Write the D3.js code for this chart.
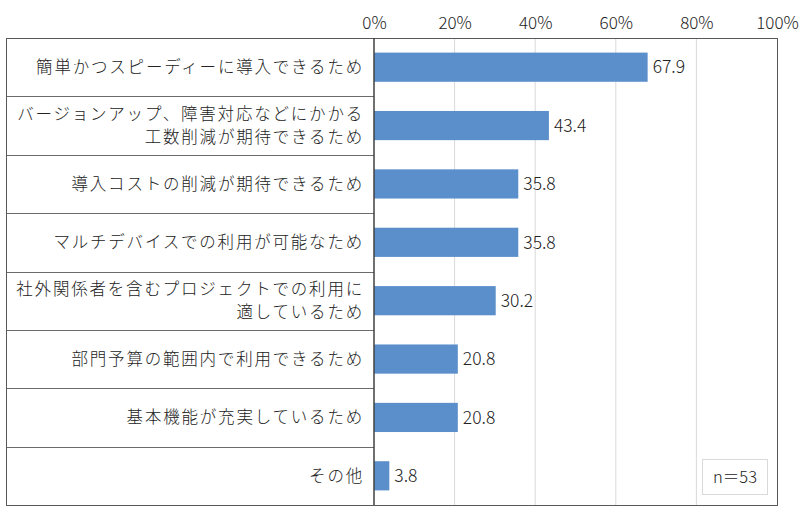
<!DOCTYPE html>
<html>
<head>
<meta charset="utf-8">
<script src="https://cdn.jsdelivr.net/npm/d3@7"></script>
<style>
  body { margin: 0; background: #fff; }
  svg { display: block; }
  text { font-family: "Noto Sans CJK JP", "Noto Sans", sans-serif; fill: #222; font-weight: 300; }
</style>
</head>
<body>
<div id="chart"></div>
<script>
// data
const categories = [
  ["簡単かつスピーディーに導入できるため"],
  ["バージョンアップ、障害対応などにかかる", "工数削減が期待できるため"],
  ["導入コストの削減が期待できるため"],
  ["マルチデバイスでの利用が可能なため"],
  ["社外関係者を含むプロジェクトでの利用に", "適しているため"],
  ["部門予算の範囲内で利用できるため"],
  ["基本機能が充実しているため"],
  ["その他"]
]
const values = [67.9, 43.4, 35.8, 35.8, 30.2, 20.8, 20.8, 3.8]
const xTicks = [0, 20, 40, 60, 80, 100]
const sampleNote = "n＝53"

const W = 800, H = 517
const LEFT = 6, AXIS_X = 374, RIGHT = 777, TOP = 38, BOTTOM = 505

const svg = d3.select("#chart").append("svg")
  .attr("width", W)
  .attr("height", H)

const data = categories.map((c, i) => ({ label: c, value: values[i], idx: i }))

// scales
const x = d3.scaleLinear().domain([0, 100]).range([AXIS_X, RIGHT])
const y = d3.scaleBand()
  .domain(data.map(d => d.idx))
  .range([TOP, BOTTOM])
  .paddingInner(0.5)
  .paddingOuter(0.25)
const step = y.step()
const rowTop = i => y(i) - step * 0.25

// gridlines
svg.append("g")
  .selectAll("line")
  .data(xTicks.filter(t => t > 0 && t < 100))
  .join("line")
    .attr("x1", d => x(d)).attr("x2", d => x(d))
    .attr("y1", TOP).attr("y2", BOTTOM)
    .attr("stroke", "#d9d9d9")
    .attr("stroke-width", 1)

// top tick labels
const xAxis = d3.axisTop(x)
  .tickValues(xTicks)
  .tickSize(0)
  .tickPadding(0)
  .tickFormat(d => d + "%")
svg.append("g")
  .attr("transform", `translate(0, ${TOP - 9})`)
  .call(xAxis)
  .call(g => g.select(".domain").remove())
  .selectAll("text")
    .attr("font-size", 17)
    .attr("font-family", "'Noto Sans CJK JP', sans-serif")
    .attr("fill", "#222")

// row separators in label area
svg.append("g")
  .selectAll("line")
  .data(data.slice(1))
  .join("line")
    .attr("x1", LEFT).attr("x2", AXIS_X)
    .attr("y1", d => Math.round(rowTop(d.idx)) + 0.5)
    .attr("y2", d => Math.round(rowTop(d.idx)) + 0.5)
    .attr("stroke", "#6b6b6b")

// outer frame
svg.append("rect")
  .attr("x", LEFT + 0.5).attr("y", TOP + 0.5)
  .attr("width", RIGHT - LEFT).attr("height", BOTTOM - TOP)
  .attr("fill", "none")
  .attr("stroke", "#595959")

// bars
svg.append("g")
  .selectAll("rect")
  .data(data)
  .join("rect")
    .attr("x", x(0))
    .attr("y", d => y(d.idx))
    .attr("width", d => x(d.value) - x(0))
    .attr("height", y.bandwidth())
    .attr("fill", "#5b8fcb")

// value labels
svg.append("g")
  .selectAll("text")
  .data(data)
  .join("text")
    .attr("x", d => x(d.value) + 5)
    .attr("y", d => y(d.idx) + y.bandwidth() / 2)
    .attr("dy", "0.36em")
    .attr("font-size", 17.5)
    .text(d => d.value.toFixed(1))

// category labels
const lab = svg.append("g")
  .selectAll("text")
  .data(data)
  .join("text")
    .attr("x", AXIS_X - 10)
    .attr("y", d => y(d.idx) + y.bandwidth() / 2)
    .attr("text-anchor", "end")
    .attr("font-size", 16.5)
    .attr("letter-spacing", 1.8)
lab.selectAll("tspan")
  .data(d => d.label.map((t, k) => ({ t, k, n: d.label.length })))
  .join("tspan")
    .attr("x", AXIS_X - 10)
    .attr("dy", d => d.k === 0 ? ((0.36 - (d.n - 1) * 0.7) + "em") : "1.4em")
    .text(d => d.t)

// axis line
svg.append("line")
  .attr("x1", AXIS_X).attr("x2", AXIS_X)
  .attr("y1", TOP).attr("y2", BOTTOM)
  .attr("stroke", "#404040")
  .attr("stroke-width", 1.5)

// n note
const note = svg.append("g")
note.append("rect")
  .attr("x", 702.5).attr("y", 459.5)
  .attr("width", 65).attr("height", 35)
  .attr("fill", "#fff")
  .attr("stroke", "#d9d9d9")
note.append("text")
  .attr("x", 735).attr("y", 477)
  .attr("dy", "0.36em")
  .attr("text-anchor", "middle")
  .attr("font-size", 16.5)
  .text(sampleNote)
</script>
</body>
</html>
